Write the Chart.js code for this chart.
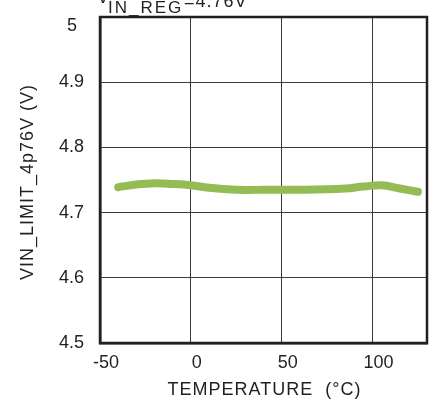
<!DOCTYPE html>
<html>
<head>
<meta charset="utf-8">
<script src="https://cdn.jsdelivr.net/npm/chart.js@4"></script>
<style>
  html, body { margin: 0; padding: 0; background: #ffffff; }
  #wrap { width: 429px; height: 403px; }
</style>
</head>
<body>
<div id="wrap"><canvas id="chart" width="429" height="403"></canvas></div>
<script>
// VIN_LIMIT threshold versus temperature, VIN_REG = 4.76 V
const temperatures = [-40, -30, -20, -10, 0, 10, 25, 40, 60, 85, 95, 105, 115, 125];
const vinLimit = [4.739, 4.743, 4.745, 4.744, 4.742, 4.738, 4.735, 4.735, 4.735, 4.737, 4.740, 4.742, 4.737, 4.732];
const xTickValues = [-50, 0, 50, 100];
const yTickValues = [4.5, 4.6, 4.7, 4.8, 4.9, 5];

const FONT = '"Liberation Sans", Arial, Helvetica, sans-serif';
const INK = '#231f20';

// Frame, top label, axis titles and the raised top y label
const decorations = {
  id: 'decorations',
  afterDraw(chart) {
    const { ctx, chartArea: a, scales } = chart;
    ctx.save();
    // plot frame
    ctx.strokeStyle = INK;
    ctx.lineWidth = 2.5;
    ctx.strokeRect(a.left, a.top, a.right - a.left, a.bottom - a.top);

    ctx.fillStyle = INK;

    // header: V_IN_REG = 4.76V
    ctx.textAlign = 'left';
    ctx.textBaseline = 'alphabetic';
    ctx.letterSpacing = '1px';
    ctx.font = '18px ' + FONT;
    ctx.fillText('V', a.left - 3, 2.5);
    ctx.letterSpacing = '2px';
    ctx.font = '17px ' + FONT;
    ctx.fillText('IN_REG', a.left + 8, 12.7);
    ctx.letterSpacing = '1px';
    ctx.font = '18px ' + FONT;
    ctx.fillText('=4.76V', a.left + 84, 6.5);

    // top y label, set slightly below its grid line
    const y5 = scales.y.getPixelForValue(5);
    ctx.letterSpacing = '0px';
    ctx.textAlign = 'center';
    ctx.textBaseline = 'middle';
    ctx.font = '18px ' + FONT;
    ctx.fillText('5', a.left - 28, y5 + 9);

    // x axis title
    ctx.letterSpacing = '1px';
    ctx.font = '18px ' + FONT;
    ctx.fillText('TEMPERATURE  (\u00B0C)', (a.left + a.right) / 2 + 1, 390);

    // y axis title
    ctx.translate(28, (a.top + a.bottom) / 2 + 2);
    ctx.rotate(-Math.PI / 2);
    ctx.fillText('VIN_LIMIT_4p76V (V)', 0, 0);
    ctx.restore();
  }
};

new Chart(document.getElementById('chart'), {
  type: 'scatter',
  data: {
    datasets: [{
      data: temperatures.map((t, i) => ({ x: t, y: vinLimit[i] })),
      showLine: true,
      borderColor: '#94bb54',
      backgroundColor: '#94bb54',
      borderWidth: 8,
      borderCapStyle: 'round',
      borderJoinStyle: 'round',
      tension: 0.4,
      pointRadius: 0,
      pointHoverRadius: 0
    }]
  },
  options: {
    responsive: false,
    animation: false,
    devicePixelRatio: 1,
    layout: { padding: { top: 17, right: 2, left: 0, bottom: 0 } },
    plugins: {
      legend: { display: false },
      tooltip: { enabled: false }
    },
    scales: {
      x: {
        type: 'linear',
        min: -50,
        max: 130,
        afterBuildTicks: s => { s.ticks = xTickValues.map(v => ({ value: v })); },
        afterFit: s => { s.height = 60; s.paddingLeft = 0; s.paddingRight = 0; },
        grid: { color: '#3a3a3a', lineWidth: 1, drawTicks: false },
        border: { display: true, color: INK, width: 2.5 },
        ticks: {
          autoSkip: false,
          maxRotation: 0,
          padding: 9,
          labelOffset: 6,
          color: INK,
          font: { family: FONT, size: 18 }
        }
      },
      y: {
        type: 'linear',
        min: 4.5,
        max: 5,
        afterBuildTicks: s => { s.ticks = yTickValues.map(v => ({ value: v })); },
        afterFit: s => { s.width = 100; s.paddingTop = 0; s.paddingBottom = 0; },
        grid: { color: '#3a3a3a', lineWidth: 1, drawTicks: false },
        border: { display: true, color: INK, width: 2.5 },
        ticks: {
          padding: 16,
          crossAlign: 'center',
          color: INK,
          font: { family: FONT, size: 18 },
          callback: v => (v === 5 ? '' : String(v))
        }
      }
    }
  },
  plugins: [decorations]
});
</script>
</body>
</html>
